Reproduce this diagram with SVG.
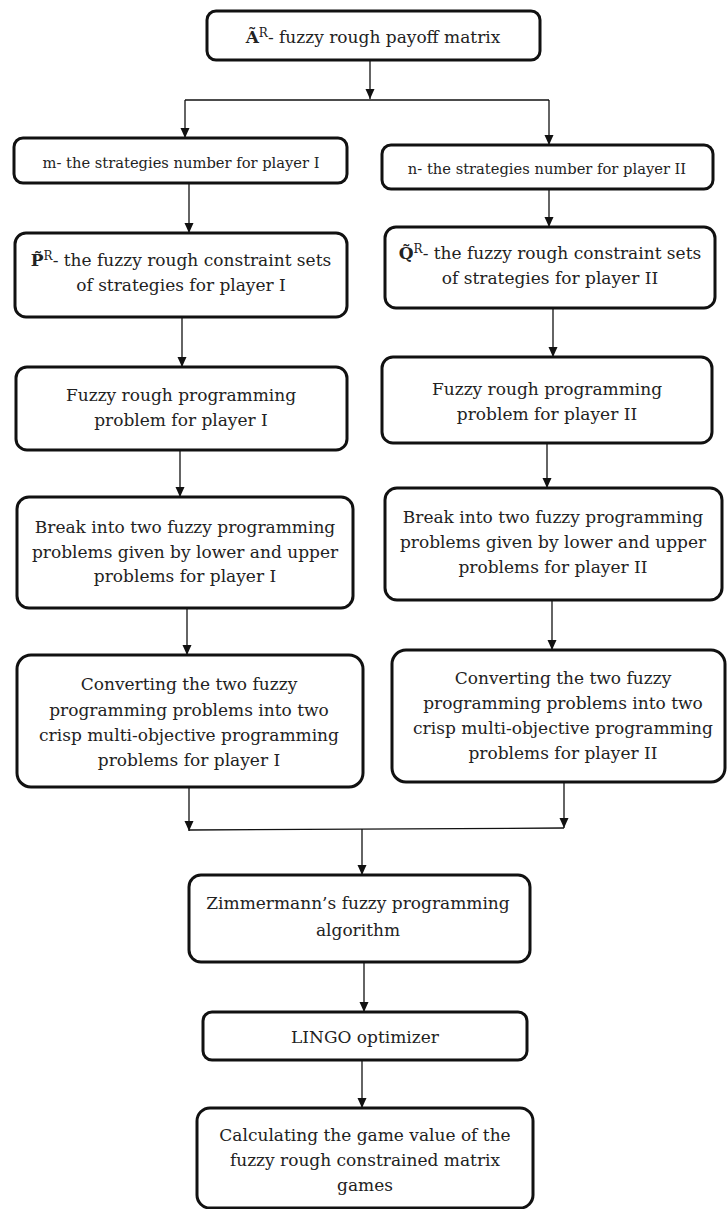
<svg xmlns="http://www.w3.org/2000/svg" width="727" height="1209" viewBox="0 0 727 1209">
<defs>
<marker id="ah" markerUnits="userSpaceOnUse" markerWidth="10" markerHeight="10" viewBox="0 0 10 10" refX="10" refY="5" orient="auto">
<path d="M0,0.5 L10,5 L0,9.5 Z" fill="#111"/>
</marker>
<style>
.box{fill:#fff;stroke:#111;stroke-width:3}
.t{font-family:"DejaVu Serif","Liberation Serif",serif;font-size:17px;fill:#222;text-anchor:middle}
.s{font-size:14.7px}
.c{fill:none;stroke:#111;stroke-width:1.3}
.a{marker-end:url(#ah)}
.b{font-weight:bold}
</style>
</defs>
<rect width="727" height="1209" fill="#fff"/>
<g id="connectors">
<line class="c a" x1="370" y1="60" x2="370" y2="99"/>
<line class="c" x1="185" y1="100" x2="549" y2="100"/>
<line class="c a" x1="185" y1="100" x2="185" y2="138"/>
<line class="c a" x1="549" y1="100" x2="549" y2="145"/>
<line class="c a" x1="189" y1="183" x2="189" y2="233"/>
<line class="c a" x1="182" y1="317" x2="182" y2="367"/>
<line class="c a" x1="180" y1="450" x2="180" y2="497"/>
<line class="c a" x1="187" y1="608" x2="187" y2="655"/>
<line class="c a" x1="189" y1="787" x2="189" y2="831"/>
<line class="c a" x1="549" y1="189" x2="549" y2="227"/>
<line class="c a" x1="553" y1="308" x2="553" y2="357"/>
<line class="c a" x1="547" y1="443" x2="547" y2="488"/>
<line class="c a" x1="552" y1="600" x2="552" y2="650"/>
<line class="c a" x1="564" y1="782" x2="564" y2="828"/>
<line class="c" x1="189" y1="830" x2="564" y2="828"/>
<line class="c a" x1="362" y1="829" x2="362" y2="875"/>
<line class="c a" x1="364" y1="962" x2="364" y2="1012"/>
<line class="c a" x1="362" y1="1060" x2="362" y2="1108"/>
</g>
<g id="n-payoff">
<rect class="box" x="207" y="11" width="333" height="49" rx="9"/>
<text class="t" x="373" y="43"><tspan class="b">Ã</tspan><tspan dy="-6" font-size="12">R</tspan><tspan dy="6">- fuzzy rough payoff matrix</tspan></text>
</g>
<g id="n-m">
<rect class="box" x="14" y="138" width="333" height="45" rx="9"/>
<text class="t s" x="181" y="168">m- the strategies number for player I</text>
</g>
<g id="n-P">
<rect class="box" x="15" y="233" width="332" height="84" rx="11"/>
<text class="t" x="181" y="266"><tspan class="b">P̃</tspan><tspan dy="-6" font-size="12">R</tspan><tspan dy="6">- the fuzzy rough constraint sets</tspan></text>
<text class="t" x="181" y="291">of strategies for player I</text>
</g>
<g id="n-frpp1">
<rect class="box" x="16" y="367" width="331" height="83" rx="11"/>
<text class="t" x="181" y="401">Fuzzy rough programming</text>
<text class="t" x="181" y="426">problem for player I</text>
</g>
<g id="n-break1">
<rect class="box" x="17" y="497" width="336" height="111" rx="12"/>
<text class="t" x="185" y="533">Break into two fuzzy programming</text>
<text class="t" x="185" y="558">problems given by lower and upper</text>
<text class="t" x="185" y="582">problems for player I</text>
</g>
<g id="n-conv1">
<rect class="box" x="17" y="655" width="346" height="132" rx="14"/>
<text class="t" x="189" y="690">Converting the two fuzzy</text>
<text class="t" x="189" y="716">programming problems into two</text>
<text class="t" x="189" y="741">crisp multi-objective programming</text>
<text class="t" x="189" y="766">problems for player I</text>
</g>
<g id="n-n">
<rect class="box" x="382" y="145" width="331" height="44" rx="9"/>
<text class="t s" x="547" y="174">n- the strategies number for player II</text>
</g>
<g id="n-Q">
<rect class="box" x="385" y="227" width="330" height="81" rx="11"/>
<text class="t" x="550" y="259"><tspan class="b">Q̃</tspan><tspan dy="-6" font-size="12">R</tspan><tspan dy="6">- the fuzzy rough constraint sets</tspan></text>
<text class="t" x="550" y="284">of strategies for player II</text>
</g>
<g id="n-frpp2">
<rect class="box" x="382" y="357" width="330" height="86" rx="11"/>
<text class="t" x="547" y="395">Fuzzy rough programming</text>
<text class="t" x="547" y="420">problem for player II</text>
</g>
<g id="n-break2">
<rect class="box" x="385" y="488" width="337" height="112" rx="12"/>
<text class="t" x="553" y="523">Break into two fuzzy programming</text>
<text class="t" x="553" y="548">problems given by lower and upper</text>
<text class="t" x="553" y="573">problems for player II</text>
</g>
<g id="n-conv2">
<rect class="box" x="392" y="650" width="333" height="132" rx="14"/>
<text class="t" x="563" y="684">Converting the two fuzzy</text>
<text class="t" x="563" y="709">programming problems into two</text>
<text class="t" x="563" y="734">crisp multi-objective programming</text>
<text class="t" x="563" y="759">problems for player II</text>
</g>
<g id="n-zimmermann">
<rect class="box" x="189" y="875" width="341" height="87" rx="12"/>
<text class="t" x="358" y="909">Zimmermann’s fuzzy programming</text>
<text class="t" x="358" y="936">algorithm</text>
</g>
<g id="n-lingo">
<rect class="box" x="203" y="1012" width="324" height="48" rx="9"/>
<text class="t" x="365" y="1043">LINGO optimizer</text>
</g>
<g id="n-game">
<rect class="box" x="197" y="1108" width="336" height="100" rx="13"/>
<text class="t" x="365" y="1141">Calculating the game value of the</text>
<text class="t" x="365" y="1166">fuzzy rough constrained matrix</text>
<text class="t" x="365" y="1191">games</text>
</g>
</svg>
